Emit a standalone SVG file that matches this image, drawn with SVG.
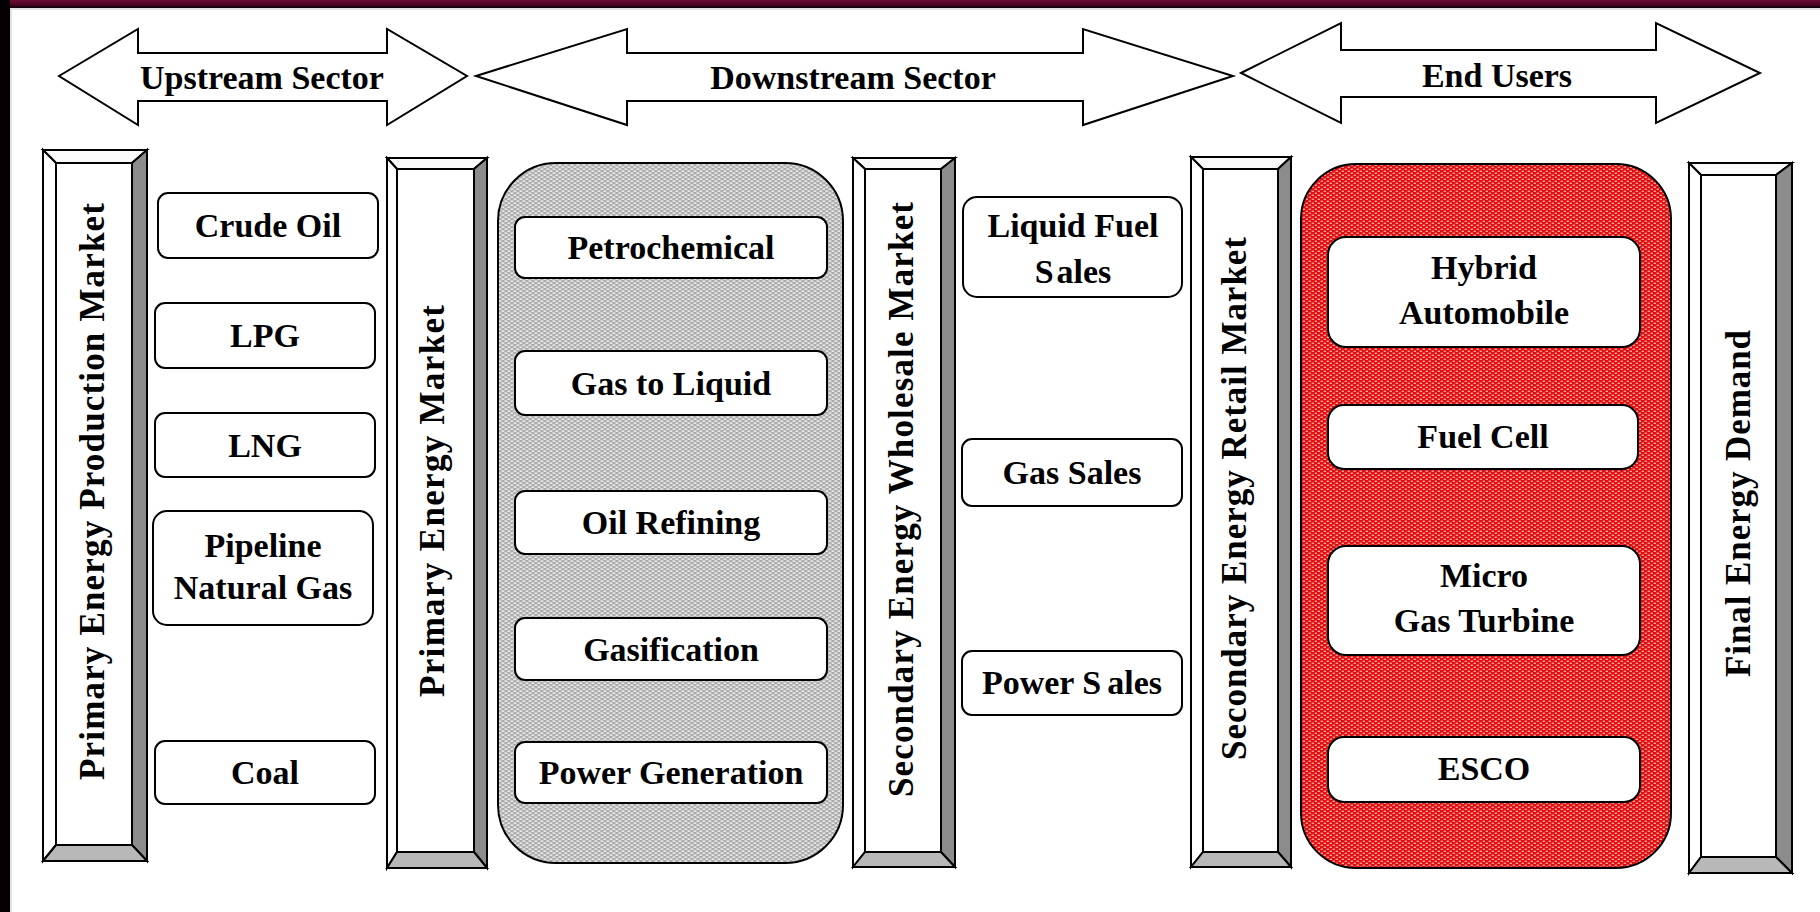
<svg xmlns="http://www.w3.org/2000/svg" width="1820" height="912" viewBox="0 0 1820 912">
  <defs>
    <style>
      .t { font-family: "Liberation Serif", "Times New Roman", serif; font-weight: bold; font-size: 34px; text-anchor: middle; fill: #000; }
      .v { font-family: "Liberation Serif", "Times New Roman", serif; font-weight: bold; font-size: 35px; text-anchor: middle; fill: #000; }
      .box { fill: #fff; stroke: #000; stroke-width: 2; }
      .arrow { fill: #fff; stroke: #000; stroke-width: 2; stroke-linejoin: miter; }
      .bv { stroke: #000; stroke-width: 2; stroke-linejoin: miter; }
      .hi { fill: #fafafa; }
      .lt { fill: #ffffff; }
      .dk { fill: #8c8c8c; }
      .md { fill: #b8b8b8; }
      .face { fill: #fff; stroke: #000; stroke-width: 2; }
    </style>
    <linearGradient id="topband" x1="0" y1="0" x2="0" y2="1">
      <stop offset="0" stop-color="#6e0d35"/>
      <stop offset="0.6" stop-color="#4a0622"/>
      <stop offset="1" stop-color="#0c0004"/>
    </linearGradient>
    <!-- dotted fills for the two grouping panels -->
    <pattern id="dotGray" width="6" height="4" patternUnits="userSpaceOnUse">
      <rect width="6" height="4" fill="#acacac"/>
      <rect x="0.5" y="0.5" width="2.8" height="1.2" fill="#ffffff"/>
      <rect x="3.5" y="2.5" width="2.8" height="1.2" fill="#ffffff"/>
      <rect x="-2.5" y="2.5" width="2.8" height="1.2" fill="#ffffff"/>
    </pattern>
    <pattern id="dotRed" width="6" height="4" patternUnits="userSpaceOnUse">
      <rect width="6" height="4" fill="#e30c0c"/>
      <rect x="0.6" y="0.7" width="2.4" height="1" fill="#ffffff" fill-opacity="0.85"/>
      <rect x="3.6" y="2.7" width="2.4" height="1" fill="#ffffff" fill-opacity="0.85"/>
      <rect x="-2.4" y="2.7" width="2.4" height="1" fill="#ffffff" fill-opacity="0.85"/>
    </pattern>
  </defs>

  <!-- page and frame -->
  <rect width="1820" height="912" fill="#ffffff"/>
  <rect x="0" y="0" width="1820" height="8" fill="url(#topband)"/>
  <rect x="0" y="0" width="10" height="912" fill="#050003"/>
  <line x1="10" y1="9" x2="1820" y2="9" stroke="#c8c8c8" stroke-width="1"/>
  <line x1="11" y1="9" x2="11" y2="912" stroke="#c8c8c8" stroke-width="1"/>

  <!-- sector arrows -->
  <g id="arrow-upstream">
    <polygon class="arrow" points="59,76 138,29 138,53 387,53 387,29 467,76 387,125 387,101 138,101 138,125"/>
    <text class="t" x="262" y="89">Upstream Sector</text>
  </g>
  <g id="arrow-downstream">
    <polygon class="arrow" points="476,76 627,29 627,53 1083,53 1083,29 1233,76 1083,125 1083,101 627,101 627,125"/>
    <text class="t" x="853" y="89">Downstream Sector</text>
  </g>
  <g id="arrow-endusers">
    <polygon class="arrow" points="1241,73 1341,23 1341,50 1656,50 1656,23 1760,73 1656,123 1656,97 1341,97 1341,123"/>
    <text class="t" x="1497" y="87">End Users</text>
  </g>

  <!-- market pillars -->
  <g id="bar-primary-production">
    <polygon class="bv hi" points="43,150 147,150 132,163 56,163"/>
    <polygon class="bv lt" points="43,150 56,163 56,845 43,861"/>
    <polygon class="bv dk" points="147,150 147,861 132,845 132,163"/>
    <polygon class="bv md" points="43,861 56,845 132,845 147,861"/>
    <rect class="face" x="56" y="163" width="76" height="682"/>
    <text class="v" transform="translate(104,491.5) rotate(-90)" textLength="577" lengthAdjust="spacing">Primary Energy Production Market</text>
  </g>
  <g id="bar-primary-market">
    <polygon class="bv hi" points="387,158 487,158 474,169 397,169"/>
    <polygon class="bv lt" points="387,158 397,169 397,852 387,868"/>
    <polygon class="bv dk" points="487,158 487,868 474,852 474,169"/>
    <polygon class="bv md" points="387,868 397,852 474,852 487,868"/>
    <rect class="face" x="397" y="169" width="77" height="683"/>
    <text class="v" transform="translate(444,501) rotate(-90)" textLength="392" lengthAdjust="spacing">Primary Energy Market</text>
  </g>
  <g id="bar-secondary-wholesale">
    <polygon class="bv hi" points="853,158 955,158 941,169 865,169"/>
    <polygon class="bv lt" points="853,158 865,169 865,852 853,867"/>
    <polygon class="bv dk" points="955,158 955,867 941,852 941,169"/>
    <polygon class="bv md" points="853,867 865,852 941,852 955,867"/>
    <rect class="face" x="865" y="169" width="76" height="683"/>
    <text class="v" transform="translate(913,499.5) rotate(-90)" textLength="595" lengthAdjust="spacing">Secondary Energy Wholesale Market</text>
  </g>
  <g id="bar-secondary-retail">
    <polygon class="bv hi" points="1191,157 1291,157 1278,169 1203,169"/>
    <polygon class="bv lt" points="1191,157 1203,169 1203,852 1191,867"/>
    <polygon class="bv dk" points="1291,157 1291,867 1278,852 1278,169"/>
    <polygon class="bv md" points="1191,867 1203,852 1278,852 1291,867"/>
    <rect class="face" x="1203" y="169" width="75" height="683"/>
    <text class="v" transform="translate(1246,498.5) rotate(-90)" textLength="523" lengthAdjust="spacing">Secondary Energy Retail Market</text>
  </g>
  <g id="bar-final-demand">
    <polygon class="bv hi" points="1689,163 1792,163 1776,175 1701,175"/>
    <polygon class="bv lt" points="1689,163 1701,175 1701,857 1689,873"/>
    <polygon class="bv dk" points="1792,163 1792,873 1776,857 1776,175"/>
    <polygon class="bv md" points="1689,873 1701,857 1776,857 1792,873"/>
    <rect class="face" x="1701" y="175" width="75" height="682"/>
    <text class="v" transform="translate(1750,503.5) rotate(-90)" textLength="347" lengthAdjust="spacing">Final Energy Demand</text>
  </g>

  <!-- upstream products -->
  <g id="crude-oil">
    <rect class="box" x="158" y="193" width="220" height="65" rx="10"/>
    <text class="t" x="268" y="237">Crude Oil</text>
  </g>
  <g id="lpg">
    <rect class="box" x="155" y="303" width="220" height="65" rx="10"/>
    <text class="t" x="265" y="347">LPG</text>
  </g>
  <g id="lng">
    <rect class="box" x="155" y="413" width="220" height="64" rx="10"/>
    <text class="t" x="265" y="456.5">LNG</text>
  </g>
  <g id="pipeline-gas">
    <rect class="box" x="153" y="511" width="220" height="114" rx="14"/>
    <text class="t" x="263" y="557">Pipeline</text>
    <text class="t" x="263" y="598.5">Natural Gas</text>
  </g>
  <g id="coal">
    <rect class="box" x="155" y="741" width="220" height="63" rx="10"/>
    <text class="t" x="265" y="784">Coal</text>
  </g>

  <!-- downstream conversion panel -->
  <g id="downstream-panel">
    <rect x="498" y="163" width="345" height="700" rx="58" fill="url(#dotGray)" stroke="#000" stroke-width="2"/>
  </g>
  <g id="petrochemical">
    <rect class="box" x="515" y="217" width="312" height="61" rx="10"/>
    <text class="t" x="671" y="259">Petrochemical</text>
  </g>
  <g id="gas-to-liquid">
    <rect class="box" x="515" y="351" width="312" height="64" rx="10"/>
    <text class="t" x="671" y="394.5">Gas to Liquid</text>
  </g>
  <g id="oil-refining">
    <rect class="box" x="515" y="491" width="312" height="63" rx="10"/>
    <text class="t" x="671" y="534">Oil Refining</text>
  </g>
  <g id="gasification">
    <rect class="box" x="515" y="618" width="312" height="62" rx="10"/>
    <text class="t" x="671" y="660.5">Gasification</text>
  </g>
  <g id="power-generation">
    <rect class="box" x="515" y="742" width="312" height="61" rx="10"/>
    <text class="t" x="671" y="784">Power Generation</text>
  </g>

  <!-- wholesale sales -->
  <g id="liquid-fuel-sales">
    <rect class="box" x="963" y="197" width="219" height="100" rx="14"/>
    <text class="t" x="1073" y="237">Liquid Fuel</text>
    <text class="t" x="1073" y="283">S<tspan dx="3">ales</tspan></text>
  </g>
  <g id="gas-sales">
    <rect class="box" x="962" y="439" width="220" height="67" rx="10"/>
    <text class="t" x="1072" y="484">Gas Sales</text>
  </g>
  <g id="power-sales">
    <rect class="box" x="962" y="651" width="220" height="64" rx="10"/>
    <text class="t" x="1072" y="694">Power S<tspan dx="6">ales</tspan></text>
  </g>

  <!-- end-user technologies panel -->
  <g id="enduser-panel">
    <rect x="1301" y="164" width="370" height="704" rx="55" fill="url(#dotRed)" stroke="#000" stroke-width="2"/>
  </g>
  <g id="hybrid-automobile">
    <rect class="box" x="1328" y="237" width="312" height="110" rx="18"/>
    <text class="t" x="1484" y="279">Hybrid</text>
    <text class="t" x="1484" y="324">Automobile</text>
  </g>
  <g id="fuel-cell">
    <rect class="box" x="1328" y="405" width="310" height="64" rx="16"/>
    <text class="t" x="1483" y="448">Fuel Cell</text>
  </g>
  <g id="micro-gas-turbine">
    <rect class="box" x="1328" y="546" width="312" height="109" rx="18"/>
    <text class="t" x="1484" y="587">Micro</text>
    <text class="t" x="1484" y="632">Gas Turbine</text>
  </g>
  <g id="esco">
    <rect class="box" x="1328" y="737" width="312" height="65" rx="16"/>
    <text class="t" x="1484" y="780">ESCO</text>
  </g>
</svg>
